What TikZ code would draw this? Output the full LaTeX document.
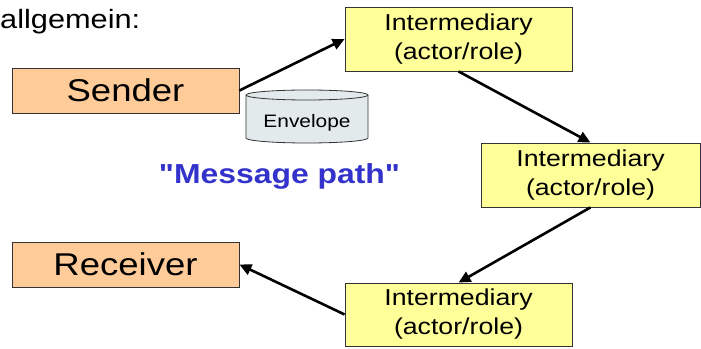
\documentclass[tikz,border=0pt]{standalone}
\usepackage{fontspec}
\setmainfont{Liberation Sans}[Ligatures=TeXOff]
\usepackage{graphicx}
\usetikzlibrary{arrows.meta}
\definecolor{sendorange}{RGB}{255,204,153}
\definecolor{interyellow}{RGB}{255,255,153}
\definecolor{envgray}{RGB}{226,234,236}
\definecolor{pathblue}{RGB}{51,51,204}
\newcommand{\hstr}[1]{\scalebox{1.16}[1]{#1}}
\newcommand{\actor}{\hstr{\begin{tabular}{@{}c@{}}Intermediary\\(actor/role)\end{tabular}}}

\begin{document}
\begin{tikzpicture}[x=1pt, y=1pt,
  endpt/.style={draw=black!80, line width=0.8pt, fill=sendorange, minimum width=227pt, minimum height=45pt, inner sep=0pt, font=\fontsize{31.5}{36}\selectfont},
  inter/.style={draw=black!80, line width=0.8pt, fill=interyellow, minimum width=227pt, minimum height=64pt, inner sep=0pt, font=\fontsize{23}{29}\selectfont},
  hop/.style={line width=2.6pt, -{Triangle[length=12pt,width=11pt]}}]
 	\useasboundingbox (0,0) rectangle (701,348);
 	\node[anchor=base west, inner sep=0pt, font=\fontsize{26.5}{30}\selectfont] (Allg) at (0,319) {\hstr{allgemein:}};
 	\node[endpt] (Send) at (125.5,257.5) {\hstr{Sender}};
 	\node[endpt] (Recv) at (125.5,83.5) {\hstr{Receiver}};
 	\node[inter] (InterA) at (458.5,309) {\actor};
 	\node[inter, minimum width=219pt] (InterB) at (590.5,173) {\actor};
 	\node[inter, minimum height=63pt] (InterC) at (458.5,33.5) {\actor};
 	% envelope drum
 	\draw[draw=black!80, line width=0.8pt, fill=envgray] (246,253) -- (246,210) arc[start angle=180, end angle=360, x radius=61pt, y radius=5pt] -- (368,253) arc[start angle=0, end angle=180, x radius=61pt, y radius=5pt] -- cycle;
 	\draw[draw=black!80, line width=0.8pt] (246,253) arc[start angle=180, end angle=360, x radius=61pt, y radius=5pt];
 	\node[anchor=base, font=\fontsize{18}{22}\selectfont] (Env) at (307,220) {\hstr{Envelope}};
 	\node[anchor=base, text=pathblue, font=\bfseries\fontsize{27.5}{32}\selectfont] (Path) at (279.5,164) {\hstr{"Message path"}};
 	\draw[hop] (Send.east) -- (InterA.west);
 	\draw[hop] (InterA.south) -- (InterB.north);
 	\draw[hop] (InterB.south) -- (InterC.north);
 	\draw[hop] (InterC.west) -- (Recv.east);
\end{tikzpicture}
\end{document}
